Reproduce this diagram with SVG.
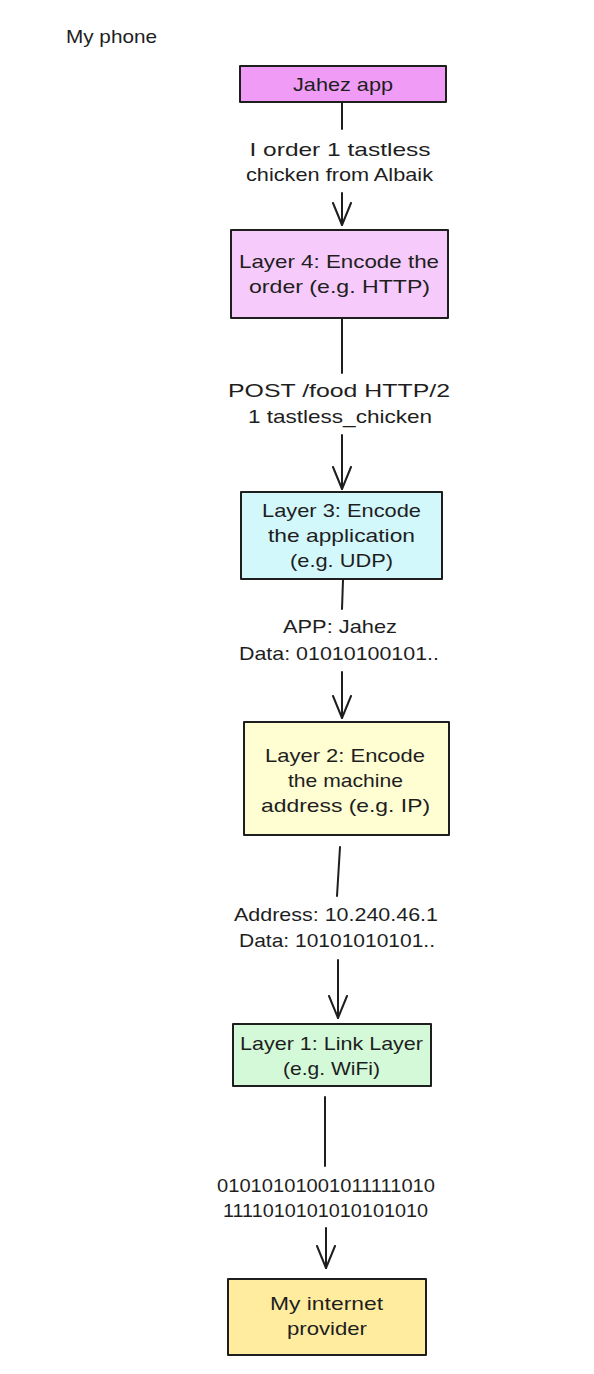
<svg xmlns="http://www.w3.org/2000/svg" width="594" height="1374" viewBox="0 0 594 1374">
<style>
.bg{fill:#ffffff}
.box{stroke:#1e1e1e;stroke-width:2;stroke-linejoin:round}
.t{font-family:"Liberation Sans","DejaVu Sans",sans-serif;font-size:19px;fill:#1e1e1e;text-anchor:middle}
.ln{stroke:#1e1e1e;stroke-width:2;fill:none;stroke-linecap:round}
</style>
<defs>
<marker id="ah" markerUnits="userSpaceOnUse" markerWidth="26" markerHeight="22" viewBox="0 -11 26 22" refX="23" refY="0" orient="auto">
<path d="M1,-9 L23,0 L1,9" fill="none" stroke="#1e1e1e" stroke-width="2" stroke-linecap="round" stroke-linejoin="round"/>
</marker>
</defs>
<rect class="bg" x="0" y="0" width="594" height="1374"/>

<g id="title">
<text class="t" x="66" y="43" style="text-anchor:start" textLength="91" lengthAdjust="spacingAndGlyphs">My phone</text>
</g>

<g id="node-jahez">
<rect class="box" x="240" y="66" width="206" height="36" fill="#f09cf6"/>
<text class="t" x="343" y="91" textLength="100" lengthAdjust="spacingAndGlyphs">Jahez app</text>
</g>

<g id="node-layer4">
<rect class="box" x="231" y="230" width="217" height="88" fill="#f6cbfb"/>
<text class="t" x="339" y="268" textLength="200" lengthAdjust="spacingAndGlyphs">Layer 4: Encode the</text>
<text class="t" x="339.5" y="293" textLength="181" lengthAdjust="spacingAndGlyphs">order (e.g. HTTP)</text>
</g>

<g id="node-layer3">
<rect class="box" x="241" y="492" width="201" height="87" fill="#d2f8fc"/>
<text class="t" x="341.5" y="517" textLength="159" lengthAdjust="spacingAndGlyphs">Layer 3: Encode</text>
<text class="t" x="341.5" y="542" textLength="147" lengthAdjust="spacingAndGlyphs">the application</text>
<text class="t" x="341.5" y="567" textLength="103" lengthAdjust="spacingAndGlyphs">(e.g. UDP)</text>
</g>

<g id="node-layer2">
<rect class="box" x="244" y="722" width="205" height="113" fill="#fffdd2"/>
<text class="t" x="345" y="762" textLength="160" lengthAdjust="spacingAndGlyphs">Layer 2: Encode</text>
<text class="t" x="345.5" y="787" textLength="115" lengthAdjust="spacingAndGlyphs">the machine</text>
<text class="t" x="345.5" y="812" textLength="169" lengthAdjust="spacingAndGlyphs">address (e.g. IP)</text>
</g>

<g id="node-layer1">
<rect class="box" x="233" y="1024" width="198" height="62" fill="#d3f9d8"/>
<text class="t" x="331.5" y="1050" textLength="183" lengthAdjust="spacingAndGlyphs">Layer 1: Link Layer</text>
<text class="t" x="331.5" y="1075" textLength="97" lengthAdjust="spacingAndGlyphs">(e.g. WiFi)</text>
</g>

<g id="node-provider">
<rect class="box" x="228" y="1279" width="198" height="76" fill="#ffec9f"/>
<text class="t" x="326.5" y="1310" textLength="113" lengthAdjust="spacingAndGlyphs">My internet</text>
<text class="t" x="327" y="1335" textLength="80" lengthAdjust="spacingAndGlyphs">provider</text>
</g>

<g id="connectors">
<path class="ln" d="M342,102 L342,129"/>
<path class="ln" d="M342,193 L342,225" marker-end="url(#ah)"/>
<text class="t" x="340" y="156" textLength="181" lengthAdjust="spacingAndGlyphs">I order 1 tastless</text>
<text class="t" x="339.5" y="181" textLength="187" lengthAdjust="spacingAndGlyphs">chicken from Albaik</text>

<path class="ln" d="M342,318 L342,373"/>
<path class="ln" d="M342,435 L342,489" marker-end="url(#ah)"/>
<text class="t" x="339" y="397" textLength="222" lengthAdjust="spacingAndGlyphs">POST /food HTTP/2</text>
<text class="t" x="340" y="423" textLength="184" lengthAdjust="spacingAndGlyphs">1 tastless_chicken</text>

<path class="ln" d="M343,580 L342,609"/>
<path class="ln" d="M342,672 L342,718" marker-end="url(#ah)"/>
<text class="t" x="340" y="633" textLength="114" lengthAdjust="spacingAndGlyphs">APP: Jahez</text>
<text class="t" x="339" y="660" textLength="200" lengthAdjust="spacingAndGlyphs">Data: 01010100101..</text>

<path class="ln" d="M340,847 L337,896"/>
<path class="ln" d="M338,960 L338,1018" marker-end="url(#ah)"/>
<text class="t" x="336" y="921" textLength="204" lengthAdjust="spacingAndGlyphs">Address: 10.240.46.1</text>
<text class="t" x="337" y="947" textLength="196" lengthAdjust="spacingAndGlyphs">Data: 10101010101..</text>

<path class="ln" d="M325,1097 L325,1166"/>
<path class="ln" d="M326,1228 L326,1268" marker-end="url(#ah)"/>
<text class="t" x="326" y="1192" textLength="218" lengthAdjust="spacingAndGlyphs">01010101001011111010</text>
<text class="t" x="325.5" y="1217" textLength="205" lengthAdjust="spacingAndGlyphs">1111010101010101010</text>
</g>
</svg>
